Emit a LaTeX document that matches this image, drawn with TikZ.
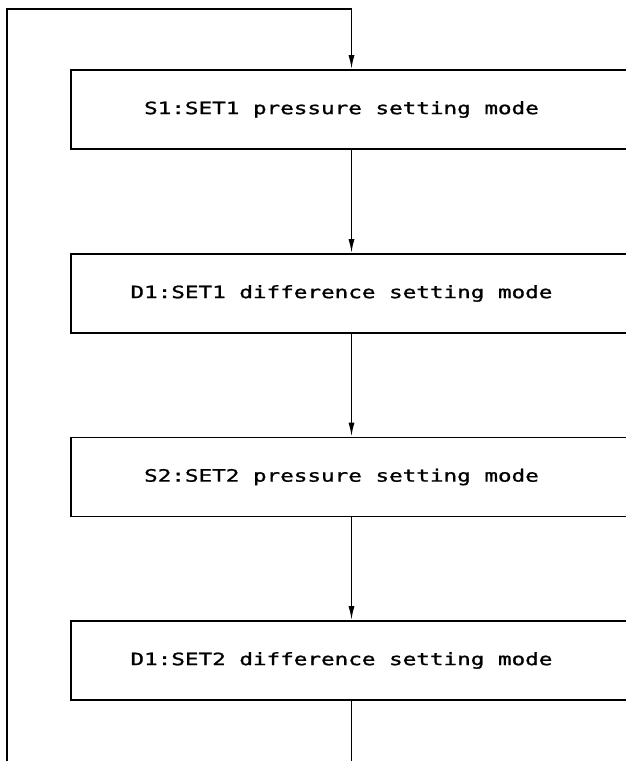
\documentclass[tikz,border=0pt]{standalone}
\usepackage{fontspec}
\usetikzlibrary{arrows.meta}
\newfontfamily\plotfont[FakeStretch=1.33,FakeBold=1.2]{DejaVu Sans Mono}
\begin{document}
\begin{tikzpicture}[x=1pt,y=-1pt,
  line/.style={draw=black,line width=1.6pt},
  arr/.style={line,-{Latex[length=14pt,width=6pt]}},
  modebox/.style={line,rectangle,minimum width=561pt,minimum height=79pt,inner sep=0pt,
    font=\plotfont\fontsize{17}{19}\selectfont}]
\useasboundingbox (0,0) rectangle (626,761);
\clip (0,0) rectangle (626,761);
\node[modebox] (b1) at (351.5,109.5) {S1:SET1 pressure setting mode\hspace*{20pt}};
\node[modebox] (b2) at (351.5,293.5) {D1:SET1 difference setting mode\hspace*{20pt}};
\node[modebox] (b3) at (351.5,477) {S2:SET2 pressure setting mode\hspace*{20pt}};
\node[modebox] (b4) at (351.5,660.5) {D1:SET2 difference setting mode\hspace*{20pt}};
\coordinate (bl) at (7,765);
\coordinate (tl) at (7,9);
\coordinate (tr) at (351.5,9);
\coordinate (bend) at (351.5,765);
\draw[arr] (bl) -- (tl) -- (tr) -- (b1.north);
\draw[arr] (b1.south) -- (b2.north);
\draw[arr] (b2.south) -- (b3.north);
\draw[arr] (b3.south) -- (b4.north);
\draw[line] (b4.south) -- (bend);
\end{tikzpicture}
\end{document}
